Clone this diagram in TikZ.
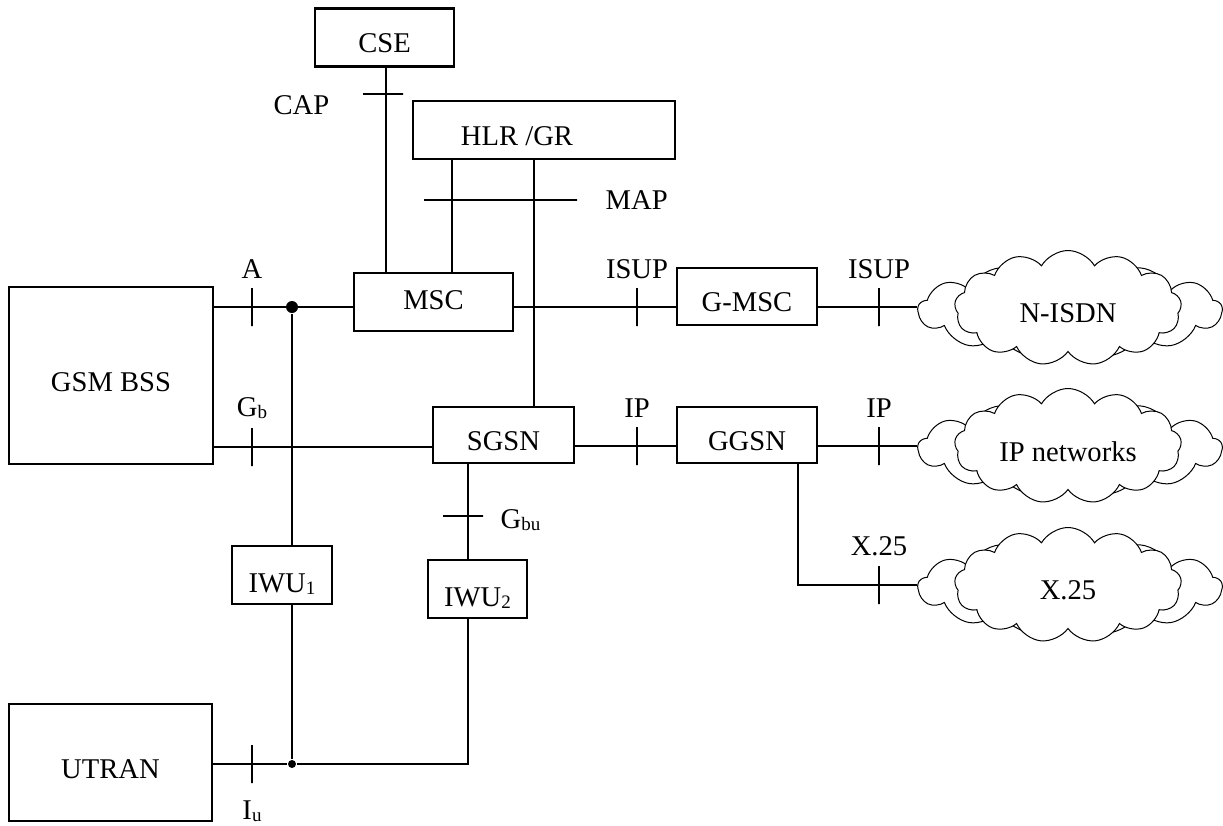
\documentclass[tikz,border=0pt]{standalone}
\usepackage{fontspec}
\setmainfont{Liberation Serif}
\usetikzlibrary{shapes.symbols}

\newcommand{\subidx}[1]{\raisebox{-2pt}{\fontsize{19}{20}\selectfont #1}}

\begin{document}
\begin{tikzpicture}[
            x=1pt, y=-1pt,
            font=\fontsize{28.6}{34}\selectfont,
            line width=2.7pt,
            box/.style={rectangle, draw, inner sep=0pt, text height=30pt, text depth=0pt},
            vtick/.style={draw, inner sep=0pt, minimum width=0pt, minimum height=38pt},
            htick/.style={draw, inner sep=0pt, minimum height=0pt, minimum width=40pt},
            dot/.style={circle, fill, inner sep=0pt, minimum size=12pt},
            net/.style={cloud, draw, fill=white, line width=1pt, cloud puffs=13,
                        cloud puff arc=120, aspect=2.4, inner sep=0pt,
                        text height=29pt, text depth=0pt},
            label distance=7pt,
            every label/.style={inner sep=0pt}
        ]
            \useasboundingbox (0,0) rectangle (1223,825);

            % Nodes - core
            \node[box, minimum width=139pt, minimum height=58pt] (cse) at (384.5,37.5) {CSE};
            \node[box, minimum width=262pt, minimum height=58pt] (hlr) at (544,130) {HLR /GR\kern54pt};
            \node[box, minimum width=159pt, minimum height=58pt, text height=15pt] (msc) at (433.5,302) {MSC};
            \node[box, minimum width=141pt, minimum height=56pt] (sgsn) at (503.5,435) {SGSN};
            \node[box, minimum width=140pt, minimum height=57pt] (gmsc) at (747,296.5) {G-MSC};
            \node[box, minimum width=140pt, minimum height=56pt] (ggsn) at (747,435) {GGSN};

            % Nodes - access
            \node[box, minimum width=204pt, minimum height=177pt, text height=32pt] (bss) at (111,375.5) {GSM BSS};
            \node[box, minimum width=203pt, minimum height=117pt, text height=31pt] (utran) at (110.5,762.5) {UTRAN};
            \node[box, minimum width=100pt, minimum height=58pt, text height=34pt] (iwu1) at (282,575) {IWU\subidx{1}};
            \node[box, minimum width=99pt, minimum height=58pt, text height=35pt] (iwu2) at (477.5,589) {IWU\subidx{2}};

            % Clouds
            \node[net, minimum width=304pt, minimum height=95pt] (isdnbg) at (1070,310) {};
            \node[net, minimum width=227pt, minimum height=115pt] (isdn) at (1068,308) {N-ISDN};
            \node[net, minimum width=304pt, minimum height=95pt] (ipbg) at (1070,448) {};
            \node[net, minimum width=227pt, minimum height=115pt, text height=31pt] (ipnet) at (1068,446) {IP networks};
            \node[net, minimum width=304pt, minimum height=95pt] (x25bg) at (1070,587) {};
            \node[net, minimum width=227pt, minimum height=115pt] (x25) at (1068,585) {X.25};

            % Interface ticks
            \node[vtick, label=above:A] (ta) at (252,307) {};
            \node[vtick, label=above:G\subidx{b}] (tgb) at (252,447) {};
            \node[vtick, label={[label distance=15pt]below:I\subidx{u}}] (tiu) at (252,764) {};
            \node[vtick, label=above:ISUP] (tisup1) at (637,307) {};
            \node[vtick, label=above:ISUP] (tisup2) at (879,307) {};
            \node[vtick, label=above:IP] (tip1) at (637,446) {};
            \node[vtick, label=above:IP] (tip2) at (879,446) {};
            \node[vtick, label=above:X.25] (tx25) at (879,585) {};
            \node[htick, label={[label distance=31pt, yshift=-11pt]left:CAP}] (tcap) at (383,94) {};
            \node[htick, minimum width=153pt, label={[label distance=26pt]right:MAP}] (tmap) at (500.5,200) {};
            \node[htick, label={[label distance=15pt, yshift=-4pt]right:G\subidx{bu}}] (tgbu) at (463,516) {};

            % Junctions
            \node[dot] (j1) at (292,307) {};
            \node[dot, minimum size=8pt] (j2) at (292,764) {};

            % Trunk columns
            \coordinate (cx) at (386,0);
            \coordinate (hx1) at (452,0);
            \coordinate (hx2) at (534,0);
            \coordinate (ix) at (468,0);
            \coordinate (gx) at (798,0);

            % Links
            \draw (cse.south -| cx) -- (msc.north -| cx);
            \draw (hlr.south -| hx1) -- (msc.north -| hx1);
            \draw (hlr.south -| hx2) -- (sgsn.north -| hx2);
            \draw (bss.east |- j1) -- (msc.west |- j1);
            \draw (bss.east |- tgb) -- (sgsn.west |- tgb);
            \draw (j1) -- (iwu1.north -| j1);
            \draw (iwu1.south -| j1) -- (j2);
            \draw (utran.east |- tiu) -- (j2) -| (iwu2.south -| ix);
            \draw (sgsn.south -| ix) -- (iwu2.north -| ix);
            \draw (msc.east |- tisup1) -- (gmsc.west |- tisup1);
            \draw (gmsc.east |- tisup2) -- (isdnbg.west |- tisup2);
            \draw (sgsn.east |- tip1) -- (ggsn.west |- tip1);
            \draw (ggsn.east |- tip2) -- (ipbg.west |- tip2);
            \draw (ggsn.south -| gx) |- (x25bg.west |- tx25);
        \end{tikzpicture}
\end{document}
